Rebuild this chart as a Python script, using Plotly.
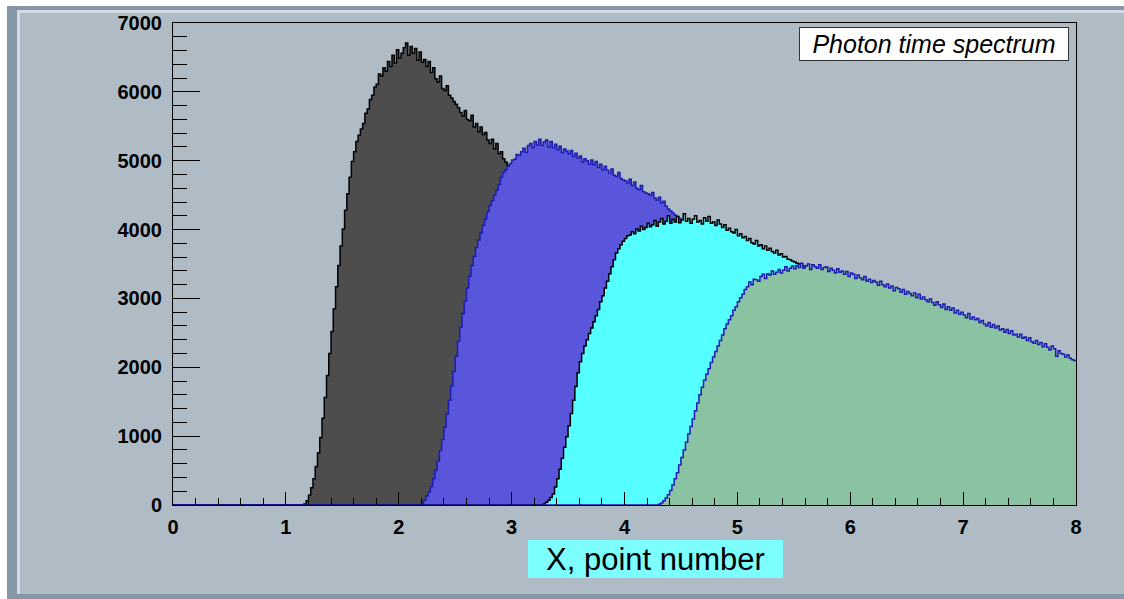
import plotly.graph_objects as go

# ---- histogram data: counts per 0.02-wide bin, starting at the given x ----
bin_width = 0.02

black_start = 1.16
black_counts = [
    15, 60, 140, 250, 380, 560, 760, 980, 1260, 1560,
    1880, 2200, 2520, 2850, 3170, 3480, 3760, 4010, 4280, 4520,
    4760, 4990, 5130, 5280, 5370, 5460, 5540, 5690, 5750, 5890,
    5950, 6070, 6110, 6260, 6230, 6350, 6300, 6440, 6370, 6530,
    6420, 6610, 6490, 6560, 6640, 6710, 6530, 6660, 6560, 6630,
    6460, 6580, 6430, 6470, 6370, 6440, 6280, 6350, 6190, 6140,
    6230, 6050, 6020, 6090, 5950, 5910, 5860, 5820, 5770, 5700,
    5650, 5730, 5600, 5580, 5660, 5490, 5540, 5420, 5490, 5380,
    5410, 5300, 5250, 5310, 5170, 5250, 5100, 5130, 5030, 4980,
    4930, 4870, 4850, 4810, 4790, 4740, 4710, 4690, 4650, 4630,
    4590, 4570,
]

blue_start = 2.20
blue_counts = [
    20, 70, 130, 190, 270, 380, 500, 640, 790, 950,
    1130, 1320, 1520, 1730, 1940, 2160, 2380, 2580, 2780, 2960,
    3150, 3320, 3480, 3610, 3740, 3850, 3950, 4060, 4150, 4260,
    4350, 4420, 4500, 4570, 4650, 4760, 4830, 4870, 4920, 4960,
    5010, 5020, 5090, 5080, 5130, 5180, 5120, 5220, 5250, 5190,
    5280, 5230, 5310, 5220, 5270, 5300, 5200, 5280, 5190, 5240,
    5160, 5210, 5120, 5170, 5140, 5100, 5150, 5060, 5110, 5040,
    5070, 4980, 5030, 5000, 4950, 5010, 4940, 4990, 4900, 4950,
    4870, 4920, 4860, 4820, 4880, 4790, 4770, 4830, 4740, 4720,
    4710, 4680, 4730, 4640, 4690, 4600, 4580, 4640, 4550, 4530,
    4520, 4500, 4540, 4460, 4430, 4470, 4390, 4410, 4340, 4300,
    4270, 4240, 4210, 4190, 4160, 4140, 4110, 4090, 4060, 4040,
    4010, 3990,
]

cyan_start = 3.28
cyan_counts = [
    15, 40, 70, 110, 160, 260, 380, 520, 680, 840,
    990, 1150, 1330, 1520, 1720, 1920, 2080, 2200, 2310, 2400,
    2490, 2570, 2660, 2750, 2840, 2950, 3040, 3150, 3250, 3360,
    3460, 3560, 3660, 3720, 3780, 3830, 3870, 3910, 3920, 3970,
    3940, 4010, 3980, 4050, 4000, 4030, 4090, 4040, 4070, 4130,
    4050, 4110, 4160, 4080, 4120, 4200, 4090, 4150, 4110, 4190,
    4100, 4140, 4230, 4120, 4160, 4090, 4150, 4200, 4110, 4130,
    4080, 4170, 4120, 4190, 4090, 4110, 4060, 4140, 4080, 4030,
    4070, 3990, 4020, 3970, 3950, 4000, 3910, 3940, 3880, 3900,
    3840, 3870, 3810, 3790, 3840, 3760, 3780, 3720, 3760, 3700,
    3730, 3680, 3660, 3700, 3630, 3650, 3600, 3610, 3570, 3560,
    3540, 3530, 3510, 3500, 3480, 3470, 3450,
]

green_start = 4.30
green_counts = [
    10, 30, 60, 100, 150, 210, 290, 380, 470, 580,
    690, 800, 910, 1030, 1140, 1250, 1370, 1480, 1600, 1710,
    1810, 1900, 1980, 2070, 2150, 2230, 2310, 2390, 2470, 2560,
    2630, 2690, 2750, 2830, 2880, 2950, 3010, 3060, 3130, 3170,
    3240, 3200, 3280, 3270, 3250, 3320, 3350, 3290, 3360, 3340,
    3400, 3350, 3380, 3420, 3370, 3410, 3460, 3400, 3440, 3470,
    3430, 3480, 3450, 3510, 3440, 3470, 3500, 3420, 3490, 3460,
    3440, 3490, 3420, 3450, 3460, 3390, 3440, 3410, 3370, 3430,
    3380, 3400, 3350, 3390, 3320, 3370, 3350, 3290, 3340, 3300,
    3270, 3320, 3250, 3280, 3230, 3260, 3240, 3190, 3250, 3200,
    3170, 3210, 3150, 3180, 3110, 3160, 3140, 3090, 3130, 3060,
    3100, 3070, 3040, 3080, 3010, 3060, 2990, 3020, 2980, 2950,
    2990, 2940, 2900, 2950, 2910, 2870, 2920, 2840, 2880, 2830,
    2860, 2790, 2830, 2770, 2800, 2760, 2720, 2780, 2700, 2730,
    2690, 2710, 2650, 2680, 2630, 2600, 2650, 2580, 2620, 2570,
    2600, 2540, 2560, 2510, 2550, 2490, 2530, 2470, 2480, 2440,
    2480, 2420, 2440, 2390, 2430, 2370, 2350, 2390, 2330, 2360,
    2300, 2340, 2290, 2250, 2310, 2270, 2160, 2240, 2200, 2190,
    2150, 2180, 2130, 2110, 2100,
]

x_ticks = [0, 1, 2, 3, 4, 5, 6, 7, 8]
y_ticks = [0, 1000, 2000, 3000, 4000, 5000, 6000, 7000]

title_text = "Photon time spectrum"
x_title_text = "X, point number"

# ---- page geometry (pixels) ----
W, H = 1124, 599
L, R, T, B = 173, 48, 23, 94
PW, PH = W - L - R, H - T - B

CANVAS = "#afbcc6"


def px_x(p):
    return (p - L) / PW


def px_y(p):
    return (H - B - p) / PH


def step_trace(start, counts, fill, line):
    lead = round(start / bin_width)
    full = [0] * lead + counts
    edges = [i * bin_width for i in range(len(full) + 1)]
    heights = full + [full[-1]]
    return go.Scatter(
        x=edges, y=heights, mode="lines", line_shape="hv",
        line=dict(color=line, width=1.5),
        fill="tozeroy", fillcolor=fill,
        hoverinfo="skip", showlegend=False,
    )


fig = go.Figure()
fig.add_trace(step_trace(black_start, black_counts, "#4d4d4d", "#000000"))
fig.add_trace(step_trace(blue_start, blue_counts, "#5a56dc", "#1c1cb0"))
fig.add_trace(step_trace(cyan_start, cyan_counts, "#55ffff", "#000000"))
fig.add_trace(step_trace(green_start, green_counts, "#89c3a1", "#1c1cb0"))

tick_font = dict(family="Liberation Sans, Arial, sans-serif", size=20,
                 color="black", weight="bold")

fig.update_xaxes(
    range=[0, 8], tickvals=x_ticks, ticktext=[str(v) for v in x_ticks],
    showline=True, linecolor="black", linewidth=1, mirror=True,
    ticks="inside", ticklen=13, tickwidth=1, tickcolor="black",
    minor=dict(ticks="inside", ticklen=7, dtick=0.2, tick0=0,
               tickcolor="black", tickwidth=1, showgrid=False),
    showgrid=False, zeroline=False, tickfont=tick_font,
    ticklabelstandoff=4,
)
fig.update_yaxes(
    range=[0, 7000], tickvals=y_ticks, ticktext=[str(v) for v in y_ticks],
    showline=True, linecolor="black", linewidth=1, mirror=True,
    ticks="inside", ticklen=27, tickwidth=1, tickcolor="black",
    minor=dict(ticks="inside", ticklen=14, dtick=200, tick0=0,
               tickcolor="black", tickwidth=1, showgrid=False),
    showgrid=False, zeroline=False, tickfont=tick_font,
    ticklabelstandoff=6,
)

# canvas bevel: white outer strip, dark band, thin highlight
DARK = "#8797a9"
LIGHT = "#d3dbe2"
shapes = []


def rect(x0, y0, x1, y1, color):
    shapes.append(dict(type="rect", xref="paper", yref="paper",
                       x0=px_x(x0), x1=px_x(x1), y0=px_y(y1), y1=px_y(y0),
                       fillcolor=color, line=dict(width=0), layer="below"))


rect(0, 0, W, 6, "white")
rect(0, 0, 7, H, "white")
rect(7, 6, W, 10, DARK)
rect(7, 6, 17, H, DARK)
rect(17, 10, W, 13, LIGHT)
rect(17, 10, 20, 594, LIGHT)
rect(7, 594, W, H, DARK)

annotations = [
    dict(text=title_text, xref="paper", yref="paper",
         x=px_x(934), y=px_y(44.5), xanchor="center", yanchor="middle",
         showarrow=False, bgcolor="white", bordercolor="#333333",
         borderwidth=1, borderpad=1, width=266, height=30,
         font=dict(family="Liberation Sans, Arial, sans-serif", size=25,
                   color="black", style="italic")),
    dict(text=x_title_text, xref="paper", yref="paper",
         x=px_x(655.5), y=px_y(559), xanchor="center", yanchor="middle",
         showarrow=False, bgcolor="#7dffff", borderwidth=0, borderpad=0,
         width=255, height=38,
         font=dict(family="Liberation Sans, Arial, sans-serif", size=31,
                   color="black")),
]

fig.update_layout(
    width=W, height=H,
    margin=dict(l=L, r=R, t=T, b=B, autoexpand=False),
    paper_bgcolor=CANVAS, plot_bgcolor=CANVAS,
    shapes=shapes, annotations=annotations,
    showlegend=False,
)

fig.write_html("out.html")
